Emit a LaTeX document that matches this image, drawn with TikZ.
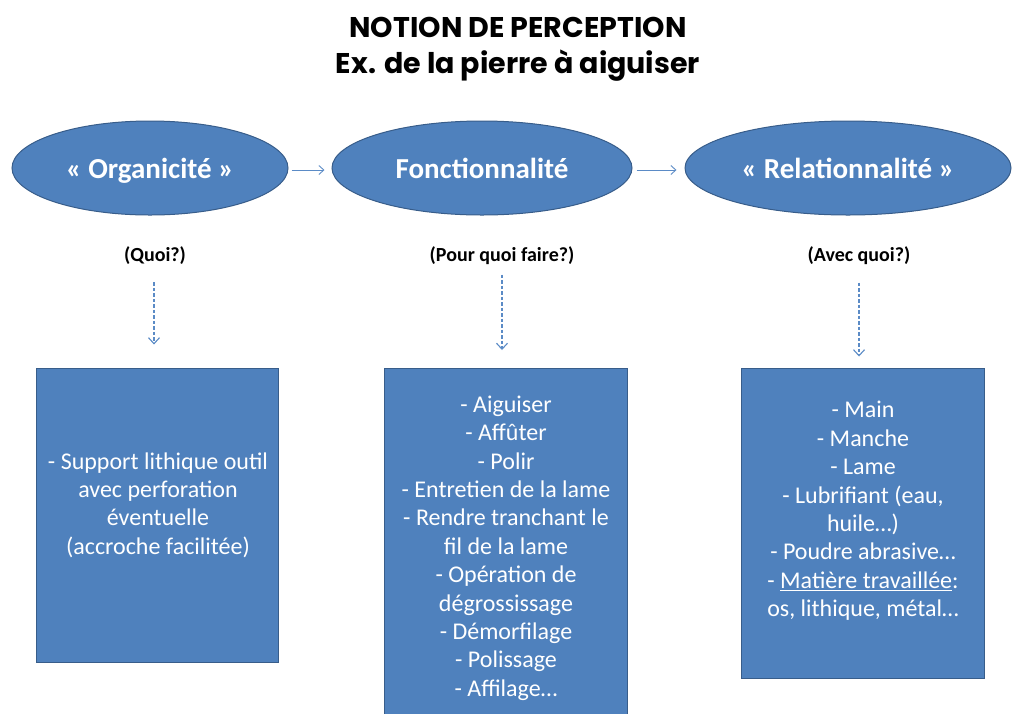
\documentclass[tikz,border=0pt]{standalone}
\usepackage{fontspec}
\setmainfont{Carlito}
\newfontfamily\titlefont{Poppins}
\usetikzlibrary{shapes.geometric,arrows.meta}
\definecolor{ofblue}{HTML}{4F81BD}
\definecolor{ofborder}{HTML}{385D8A}
\definecolor{arrowblue}{HTML}{5B8BC6}
\tikzset{
  oval/.style={ellipse, fill=ofblue, draw=ofborder, line width=1pt, minimum width=#1, minimum height=94pt, text=white, font=\bfseries\fontsize{29}{33}\selectfont, inner sep=0pt, text height=26pt, text depth=6pt},
  rectbox/.style={rectangle, fill=ofblue, draw=ofborder, line width=1pt, inner sep=0pt},
  boxtext/.style={text=white, align=center, font=\fontsize{24}{28.4}\selectfont, inner sep=0pt},
  question/.style={font=\bfseries\fontsize{20}{24}\selectfont, text=black},
  flow/.style={-{Straight Barb[length=5pt,width=9pt]}, draw=arrowblue, line width=0.9pt},
  dashflow/.style={-{Straight Barb[length=6pt,width=11pt]}, draw=arrowblue, line width=1.1pt, dash pattern=on 3.5pt off 2pt},
  titletext/.style={font=\titlefont\bfseries\fontsize{28.5}{36}\selectfont, align=center, text=black}
}
\begin{document}
\begin{tikzpicture}[x=1pt,y=-1pt]
\useasboundingbox (0,0) rectangle (1016,713);
\begin{scope}
\clip (0,0) rectangle (1016,713);
\node[titletext] (title) at (518,49) {NOTION DE PERCEPTION\\Ex. de la pierre à aiguiser};

\node[oval=276pt] (org) at (150,168) {« Organicité »};
\node[oval=300pt] (fon) at (482,168) {Fonctionnalité};
\node[oval=326pt] (rel) at (848,168) {« Relationnalité »};

\draw[flow] ([xshift=3pt,yshift=-2pt]org.east) -- ([xshift=-7pt,yshift=-2pt]fon.west);
\draw[flow] ([xshift=4pt,yshift=-2pt]fon.east) -- ([xshift=-8pt,yshift=-2pt]rel.west);

\node[question] (q1) at (155,256) {(Quoi?)};
\node[question] (q2) at (502,256) {(Pour quoi faire?)};
\node[question] (q3) at (859,256) {(Avec quoi?)};

\node[rectbox, minimum width=242pt, minimum height=294pt] (b1) at (157,515) {};
\node[boxtext] (t1) at (158,505)
  {- Support lithique outil\\avec perforation\\éventuelle\\(accroche facilitée)};
\node[rectbox, minimum width=243pt, minimum height=360pt, anchor=north] (b2) at (506,368) {};
\node[boxtext] (t2) at (506,548)
  {- Aiguiser\\- Affûter\\- Polir\\- Entretien de la lame\\- Rendre tranchant le\\fil de la lame\\- Opération de\\dégrossissage\\- Démorfilage\\- Polissage\\- Affilage…};
\node[rectbox, minimum width=243pt, minimum height=310pt] (b3) at (863,523) {};
\node[boxtext] (t3) at (863,511)
  {- Main\\- Manche\\- Lame\\- Lubrifiant (eau,\\huile…)\\- Poudre abrasive…\\- \underline{Matière travaillée}:\\os, lithique, métal…};

\draw[dashflow] ([xshift=-1pt,yshift=-14pt]q1.south) -- ([xshift=-1pt,yshift=23pt]q1.south |- b1.north);
\draw[dashflow] ([yshift=-6pt]q2.south) -- ([yshift=18pt]q2.south |- b2.north);
\draw[dashflow] ([yshift=-14pt]q3.south) -- ([yshift=11pt]q3.south |- b3.north);
\end{scope}
\end{tikzpicture}
\end{document}
